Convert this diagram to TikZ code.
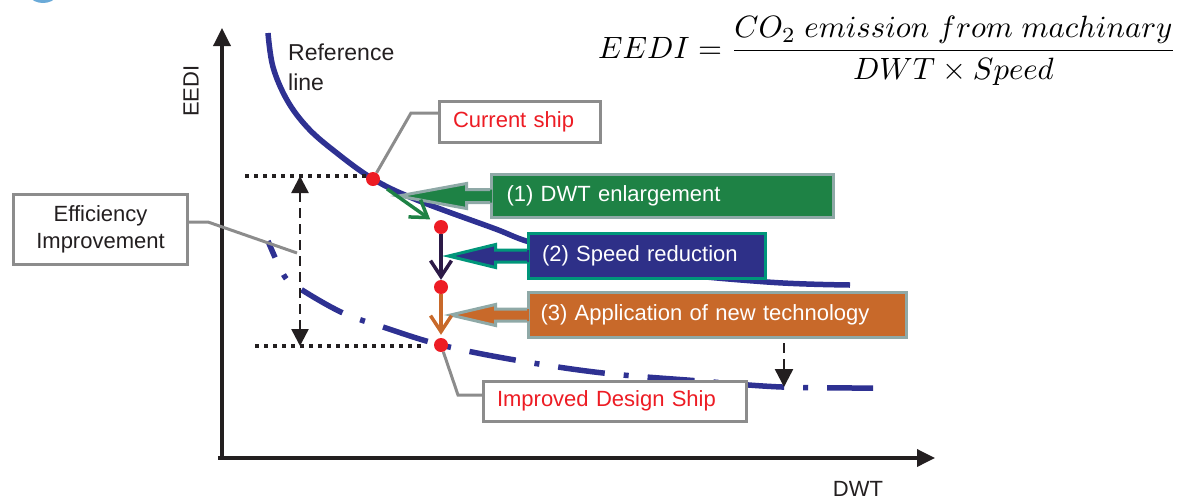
\documentclass[tikz,border=0pt]{standalone}
\usepackage{graphicx}
\usepackage{fontspec}
\setmainfont{Liberation Sans}
\usetikzlibrary{arrows.meta,calc}
\definecolor{refblue}{HTML}{2E3192}
\definecolor{dotred}{HTML}{ED1C24}
\definecolor{boxgray}{HTML}{8C8C8C}
\definecolor{tealgray}{HTML}{8FA9A7}
\definecolor{ggreen}{HTML}{1E8245}
\definecolor{bblue}{HTML}{2E3088}
\definecolor{tealgreen}{HTML}{00967A}
\definecolor{orng}{HTML}{C8692A}
\definecolor{ink}{HTML}{231F20}
\definecolor{purp}{HTML}{2C1A47}
\definecolor{logoblue}{HTML}{2A86C8}
\pgfdeclarelayer{front}
\pgfsetlayers{main,front}
% #1 box node, #2 fill, #3 border, #4 shaft half, #5 head half, #6 head base dx, #7 tip dx
\newcommand\calloutarrow[7]{%
  \fill[#2] ($(#1.west)+(2,-#4)$) -- ($(#1.west)+(-#6,-#4)$) -- ($(#1.west)+(-#6,-#5)$)
     -- ($(#1.west)+(-#7,0)$) -- ($(#1.west)+(-#6,#5)$) -- ($(#1.west)+(-#6,#4)$)
     -- ($(#1.west)+(2,#4)$) -- cycle;
  \draw[#3, line width=3pt, line join=miter] ($(#1.west)+(0,-#4)$) -- ($(#1.west)+(-#6,-#4)$)
     -- ($(#1.west)+(-#6,-#5)$) -- ($(#1.west)+(-#7,0)$) -- ($(#1.west)+(-#6,#5)$)
     -- ($(#1.west)+(-#6,#4)$) -- ($(#1.west)+(0,#4)$);}
\begin{document}
\begin{tikzpicture}[x=1pt,y=-1pt,
  txt/.style={font=\fontsize{22}{27}\selectfont, text=ink, inner sep=0pt},
  wbox/.style={draw=boxgray, line width=3pt, fill=white, font=\fontsize{22}{27}\selectfont, inner ysep=0pt},
  cbox/.style={line width=3pt, text=white, font=\fontsize{22}{27}\selectfont, inner ysep=0pt, align=left},
  reddot/.style={circle, fill=dotred, minimum size=14pt, inner sep=0pt},
  axis/.style={draw=ink, line width=3.5pt, -{Triangle[length=18pt,width=17pt]}},
  dotline/.style={draw=ink, line width=4pt, dash pattern=on 4pt off 5pt},
  dasharrow/.style={draw=ink, line width=2.5pt, dash pattern=on 10pt off 6pt},
  leader/.style={draw=boxgray, line width=3pt},
  stepline/.style={line width=3.5pt, -{Straight Barb[length=16pt,width=21pt]}},
  refline/.style={draw=refblue, line width=5.5pt},
]
\useasboundingbox (0,0) rectangle (1183,499);
\fill[logoblue!70] (43,-20) ellipse (21 and 23);

% points
\begin{pgfonlayer}{front}
\node[reddot] (cur) at (373,179) {};
\node[reddot] (p1) at (441,227) {};
\node[reddot] (p2) at (441,287) {};
\node[reddot] (imp) at (441,345) {};
\end{pgfonlayer}

% axes
\coordinate (O) at (222,458);
\coordinate (ytip) at (222,28);
\coordinate (xs) at (218,458);
\coordinate (xtip) at (935,458);
\draw[axis] (O) -- (ytip);
\draw[axis] (xs) -- (xtip);
\node[txt, rotate=90] (ylab) at (191,91) {EEDI};
\node[txt] (xlab) at (858,489) {DWT};

% curves
\draw[refline] plot[smooth, tension=0.6] coordinates {(268,33) (273,67) (287,100) (307,127) (333,150) (373,179) (417,200) (493,228) (540,245) (650,270) (767,282) (850,285)};
\draw[refline, dash pattern=on 47pt off 19pt on 5pt off 19pt, dash phase=29pt] plot[smooth, tension=0.6] coordinates {(268,241) (285,277) (302,290) (343,313) (383,327) (441,345) (515,360) (603,373) (700,381) (782,387) (873,388)};

\node[txt, anchor=north west, align=left, font=\fontsize{23}{30}\selectfont] (reflab) at (288,44) {Reference\\line};

% dotted levels and dashed arrows
\coordinate (dA) at (245,176);
\coordinate (dB) at (255,346);
\draw[dotline] (dA) -- (cur.west |- dA);
\draw[dotline] (dB) -- ($(imp.west |- dB)+(-9,0)$);
\coordinate (eTop) at (300,176);
\coordinate (eBot) at (300,346);
\draw[dasharrow, {Triangle[length=17pt,width=17pt]}-{Triangle[length=17pt,width=17pt]}] (eTop) -- (eBot);
\coordinate (dnS) at (784,343);
\coordinate (dnE) at (784,387);
\draw[dasharrow, -{Triangle[length=18pt,width=18pt]}] (dnS) -- (dnE);

% white label boxes
\node[wbox, text=ink, align=center, minimum width=174pt, minimum height=70pt] (eff) at (100.5,229.5) {Efficiency\\Improvement};
\node[wbox, text=dotred, align=left, inner xsep=13.5pt, text width=134pt, minimum height=41pt] (curbox) at (520,121.5) {Current ship};
\node[wbox, text=dotred, align=left, inner xsep=13.5pt, text width=236pt, minimum height=40pt] (impbox) at (615,401) {Improved Design Ship};

% leaders
\coordinate (effend) at (297,253);
\draw[leader] ($(eff.east)+(0,-7.5)$) -- ++(19,0) -- (effend);
\draw[leader] (cur) -- ($(curbox.west)+(-27,-8.5)$) -- ($(curbox.west)+(0,-8.5)$);
\draw[leader] (imp) -- ($(impbox.west)+(-24,-6)$) -- ($(impbox.west)+(0,-6)$);

% coloured step boxes with block arrows
\node[cbox, draw=tealgray, fill=ggreen, inner xsep=15pt, text width=312pt, minimum height=43pt] (b1) at (662.5,196) {(1) DWT enlargement};
\calloutarrow{b1}{ggreen}{tealgray}{6.5}{12.5}{23.5}{91.5}
\node[cbox, draw=tealgreen, fill=bblue, inner xsep=13.5pt, text width=210pt, minimum height=45pt] (b2) at (647,256) {(2) Speed reduction};
\calloutarrow{b2}{bblue}{tealgreen}{6}{11.5}{31.5}{78.5}
\node[cbox, draw=tealgray, fill=orng, inner xsep=12pt, text width=354pt, minimum height=45pt] (b3) at (717.5,315) {(3) Application of new technology};
\calloutarrow{b3}{orng}{tealgray}{6}{10.5}{31.5}{76.5}

% step arrows
\draw[stepline, draw=ggreen, shorten <=10pt, shorten >=6pt] (cur) -- (p1);
\draw[stepline, draw=purp] (p1) -- (p2);
\draw[stepline, draw=orng, shorten >=3pt] (p2) -- (imp);

% formula
\node[anchor=west, inner sep=0pt, text=black] (eq) at (598,51) {\resizebox{578pt}{!}{$\displaystyle EEDI=\frac{CO_2\ emission\ from\ machinary}{DWT\times Speed}$}};
\end{tikzpicture}
\end{document}
